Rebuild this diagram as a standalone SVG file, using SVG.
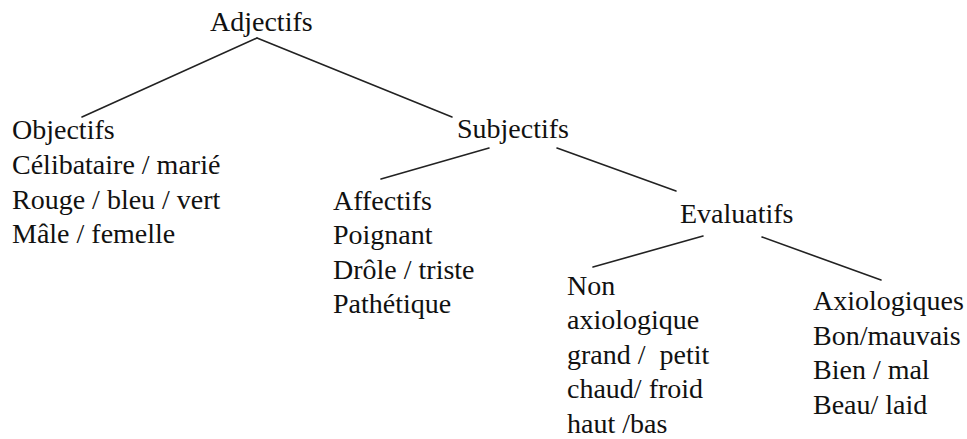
<svg xmlns="http://www.w3.org/2000/svg" width="967" height="439" viewBox="0 0 967 439">
<style>
svg text, g text, text{font-family:'Liberation Serif','Times New Roman',serif !important;font-size:28px;fill:#111}
.c line{stroke:#222;stroke-width:1.6;stroke-linecap:round}
</style>
<rect width="967" height="439" fill="#fff"/>
<g class="c" id="connectors">
<line x1="257" y1="38" x2="82" y2="117"/>
<line x1="257" y1="38" x2="452" y2="117"/>
<line x1="489" y1="148" x2="381" y2="179"/>
<line x1="557" y1="148" x2="676" y2="191"/>
<line x1="703" y1="236" x2="593" y2="267"/>
<line x1="762" y1="237" x2="881" y2="280"/>
</g>
<g id="adjectifs"><text x="210" y="31" style="font-family:'Liberation Serif',serif !important">Adjectifs</text></g>
<g id="objectifs">
<text x="12" y="139" style="font-family:'Liberation Serif',serif !important">Objectifs</text>
<text x="12" y="174" style="font-family:'Liberation Serif',serif !important">Célibataire / marié</text>
<text x="12" y="209" style="font-family:'Liberation Serif',serif !important">Rouge / bleu / vert</text>
<text x="12" y="243" style="font-family:'Liberation Serif',serif !important">Mâle / femelle</text>
</g>
<g id="subjectifs"><text x="457" y="138" style="font-family:'Liberation Serif',serif !important">Subjectifs</text></g>
<g id="affectifs">
<text x="333" y="210" style="font-family:'Liberation Serif',serif !important">Affectifs</text>
<text x="333" y="244" style="font-family:'Liberation Serif',serif !important">Poignant</text>
<text x="333" y="279" style="font-family:'Liberation Serif',serif !important">Drôle / triste</text>
<text x="333" y="313" style="font-family:'Liberation Serif',serif !important">Pathétique</text>
</g>
<g id="evaluatifs"><text x="680" y="223" style="font-family:'Liberation Serif',serif !important">Evaluatifs</text></g>
<g id="non-axiologique">
<text x="567" y="295" style="font-family:'Liberation Serif',serif !important">Non</text>
<text x="567" y="329" style="font-family:'Liberation Serif',serif !important">axiologique</text>
<text x="567" y="364" style="font-family:'Liberation Serif',serif !important">grand / &#160;petit</text>
<text x="567" y="398" style="font-family:'Liberation Serif',serif !important">chaud/ froid</text>
<text x="567" y="433" style="font-family:'Liberation Serif',serif !important">haut /bas</text>
</g>
<g id="axiologiques">
<text x="813" y="310" style="font-family:'Liberation Serif',serif !important">Axiologiques</text>
<text x="813" y="345" style="font-family:'Liberation Serif',serif !important">Bon/mauvais</text>
<text x="813" y="379" style="font-family:'Liberation Serif',serif !important">Bien / mal</text>
<text x="813" y="414" style="font-family:'Liberation Serif',serif !important">Beau/ laid</text>
</g>
</svg>
